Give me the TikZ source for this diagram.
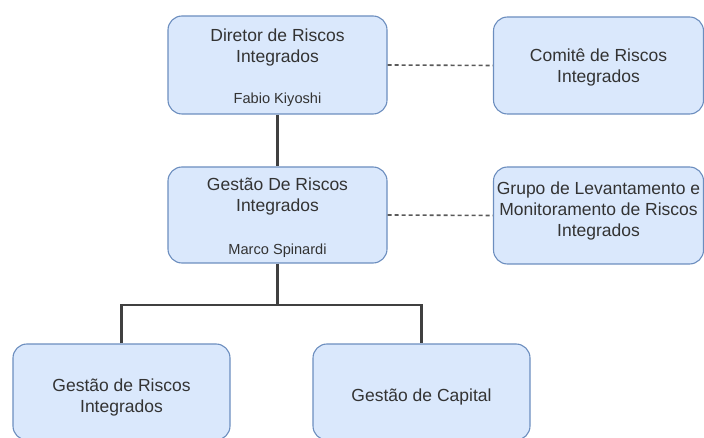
\documentclass[tikz,border=0pt]{standalone}
\usepackage{fontspec}
\setmainfont{Liberation Sans}
\usepackage{tikz}

\definecolor{boxfill}{HTML}{DAE8FC}
\definecolor{boxline}{HTML}{6C8EBF}
\definecolor{txt}{HTML}{333333}

\begin{document}
\begin{tikzpicture}[x=1pt,y=-1pt,
    unit/.style={draw=boxline,fill=boxfill,line width=1.1pt,rounded corners=14pt,inner sep=0pt},
    title/.style={text=txt,align=center,inner sep=0pt,font=\fontsize{17.5}{21}\selectfont},
    person/.style={text=txt,inner sep=0pt,font=\fontsize{14.6}{17}\selectfont},
    link/.style={draw=black!75,line width=2.2pt},
    dotline/.style={draw=black!65,line width=1.6pt,dash pattern=on 4pt off 3pt}]
            \useasboundingbox (0,0) rectangle (704,438);
            % boxes
            \node [unit,minimum width=219pt,minimum height=98pt] (dir) at (277.5,65) {};
            \node [unit,minimum width=210pt,minimum height=97pt] (com) at (598.5,65.5) {};
            \node [unit,minimum width=219pt,minimum height=96pt] (gdr) at (277.5,215) {};
            \node [unit,minimum width=210pt,minimum height=97pt] (grp) at (598.5,215.5) {};
            \node [unit,minimum width=217pt,minimum height=96pt] (gri) at (121.5,392) {};
            \node [unit,minimum width=217pt,minimum height=96pt] (cap) at (421.5,392) {};
            % texts
            \node [title] (dirtxt) at (277.5,47) {Diretor de Riscos\\Integrados};
            \node [person] (dirname) at (277.5,100) {Fabio Kiyoshi};
            \node [title] (comtxt) at (598.5,67) {Comitê de Riscos\\Integrados};
            \node [title] (gdrtxt) at (277.5,196) {Gestão De Riscos\\Integrados};
            \node [person] (gdrname) at (277.5,251) {Marco Spinardi};
            \node [title] (grptxt) at (598.5,211) {Grupo de Levantamento e\\Monitoramento de Riscos\\Integrados};
            \node [title] (gritxt) at (121.5,397) {Gestão de Riscos\\Integrados};
            \node [title] (captxt) at (421.5,397) {Gestão de Capital};
            % connectors
            \coordinate (bus) at (277.5,305);
            \draw [link] (dir.south) -- (gdr.north);
            \draw [link] (gdr.south) -- (bus);
            \draw [link] (gri.north) |- (bus) -| (cap.north);
            \draw [dotline] (dir.east) -- (com.west);
            \draw [dotline] (gdr.east) -- (grp.west);
\end{tikzpicture}
\end{document}
